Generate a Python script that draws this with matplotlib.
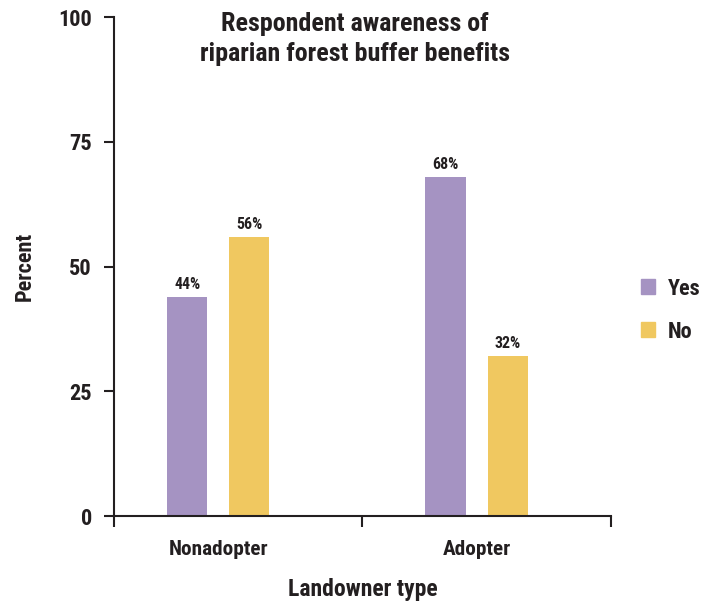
import numpy as np
import matplotlib
matplotlib.use('Agg')
import matplotlib.pyplot as plt
from matplotlib.patches import Patch

# data
landowner_types = ['Nonadopter', 'Adopter']
answers = ['Yes', 'No']
yes_pct = [44, 68]
no_pct = [56, 32]

plt.rcParams['font.family'] = ['Roboto Condensed', 'Liberation Sans', 'DejaVu Sans']
plt.rcParams['font.weight'] = 'bold'
plt.rcParams['axes.labelweight'] = 'bold'

ink = '#231f20'
purple = '#a593c2'
yellow = '#f0c860'

fig = plt.figure(figsize=(7.03, 6.01), dpi=100)
ax = fig.add_axes([0.1622, 0.1414, 0.7065, 0.8298])

centers = np.array([0.42, 1.46])
off = 0.125
w = 0.162
b1 = ax.bar(centers - off, yes_pct, w, color=purple)
b2 = ax.bar(centers + off, no_pct, w, color=yellow)
for bars, vals in ((b1, yes_pct), (b2, no_pct)):
    for r, v in zip(bars, vals):
        ax.text(r.get_x() + r.get_width() / 2, v + 1.0, f'{v}%', ha='center', va='bottom',
                fontsize=11.5, color=ink, fontweight='bold')

ax.set_xlim(0, 2)
ax.set_ylim(0, 100)
ax.set_yticks([0, 25, 50, 75, 100])
ax.set_xticks(centers)
ax.set_xticklabels(landowner_types)
ax.set_xticks([0, 1, 2], minor=True)
ax.tick_params(axis='x', which='major', length=0, pad=17, labelsize=15.3, colors=ink)
ax.tick_params(axis='x', which='minor', length=8, width=1.5, direction='out', color=ink)
ax.tick_params(axis='y', length=7, width=1.5, pad=9, labelsize=16, colors=ink)

for s in ['top', 'right']:
    ax.spines[s].set_visible(False)
for s in ['left', 'bottom']:
    ax.spines[s].set_linewidth(1.5)
    ax.spines[s].set_color(ink)

ax.set_ylabel('Percent', fontsize=16, color=ink, labelpad=16)
ax.set_xlabel('Landowner type', fontsize=17, color=ink, labelpad=14)

fig.text(0.505, 0.935, 'Respondent awareness of\nriparian forest buffer benefits', ha='center', va='center',
         fontsize=18.7, color=ink, fontweight='bold', linespacing=1.35)

handles = [Patch(color=purple), Patch(color=yellow)]
fig.legend(handles, answers, loc='center left', bbox_to_anchor=(0.883, 0.484), frameon=False,
           fontsize=16, handlelength=0.65, handleheight=0.65, handletextpad=0.55, labelspacing=0.95,
           labelcolor=ink)

fig.savefig('out.png', dpi=100)
